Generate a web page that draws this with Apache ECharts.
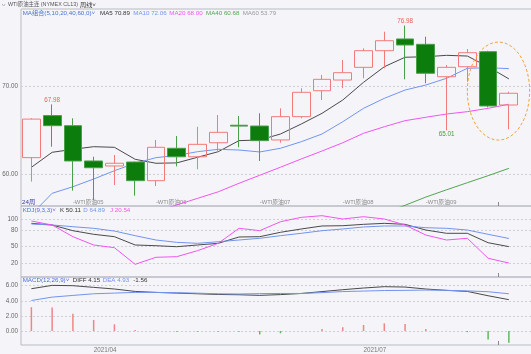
<!DOCTYPE html>
<html>
<head>
<meta charset="utf-8">
<script src="https://cdn.jsdelivr.net/npm/echarts@6/dist/echarts.min.js"></script>
<style>
  html, body { margin: 0; padding: 0; background: #f5f5f9; }
  #main { width: 531px; height: 354px; }
</style>
</head>
<body>
<div id="main"></div>
<script>
const FONT = '"Liberation Sans", "Noto Sans CJK SC", sans-serif';

// weekly candles, WTI 原油主连
const weeks = ['2021/03/15', '2021/03/22', '2021/03/29', '2021/04/05', '2021/04/12', '2021/04/19',
  '2021/04/26', '2021/05/03', '2021/05/10', '2021/05/17', '2021/05/24', '2021/05/31',
  '2021/06/07', '2021/06/14', '2021/06/21', '2021/06/28', '2021/07/05', '2021/07/12',
  '2021/07/19', '2021/07/26', '2021/08/02', '2021/08/09', '2021/08/16', '2021/08/23'];
const opens  = [61.9, 66.7, 65.55, 61.52, 60.95, 61.4, 59.27, 62.97, 62.0, 63.6, 65.6, 65.51,
  63.92, 66.58, 69.54, 70.76, 72.21, 74.11, 75.45, 74.84, 71.14, 72.28, 74.0, 67.91];
const closes = [66.3, 65.55, 61.52, 60.75, 61.26, 59.27, 63.08, 62.0, 63.42, 64.79, 65.5, 63.84,
  66.58, 69.36, 70.84, 71.6, 74.11, 75.25, 74.76, 71.53, 72.21, 73.88, 67.8, 69.25];
const lows   = [59.16, 63.15, 58.13, 57.07, 58.78, 57.56, 58.66, 60.9, 60.57, 62.58, 63.08, 61.52,
  63.6, 66.39, 68.48, 69.82, 70.96, 72.1, 70.84, 70.39, 65.01, 70.57, 67.65, 65.14];
const highs  = [66.4, 67.98, 66.39, 62.0, 62.2, 61.45, 63.92, 64.37, 65.43, 66.77, 66.66, 66.96,
  67.53, 69.82, 71.34, 73.05, 74.38, 76.28, 76.98, 75.71, 72.48, 74.3, 74.1, 69.43];

const ma5  = [60.8, 62.51, 62.85, 63.15, 63.08, 61.71, 61.26, 61.3, 61.94, 62.58, 63.84, 63.92,
  64.6, 65.74, 66.96, 68.48, 70.5, 72.28, 73.36, 73.42, 73.58, 73.5, 72.28, 70.89];
const ma10 = [55.4, 57.83, 58.58, 59.46, 60.41, 61.26, 61.9, 62.15, 62.58, 62.85, 62.77, 62.55,
  62.97, 63.72, 64.6, 66.0, 67.53, 68.67, 69.62, 70.19, 70.96, 72.1, 72.17, 72.06];
const ma20 = ['-', '-', '-', '-', '-', '-', 55.7, 56.5, 57.25, 58.0, 58.97, 59.89,
  60.81, 61.75, 62.66, 63.6, 64.68, 65.43, 66.12, 66.51, 66.88, 67.15, 67.53, 68.0];
const ma40 = ['-', '-', '-', '-', '-', '-', '-', '-', '-', '-', '-', '-',
  '-', '-', '-', '-', '-', 55.6, 56.46, 57.4, 58.23, 59.04, 59.84, 60.68];
const ma60Last = 53.79;

const kLine = [92.2, 89.2, 78.9, 72.4, 68.1, 53.1, 51.8, 50.0, 53.1, 56.1, 67.5, 68.1,
  76.0, 82.0, 87.4, 87.9, 90.4, 92.2, 90.4, 80.1, 74.2, 74.2, 57.2, 50.11];
const dLine = [91.0, 89.2, 86.1, 83.2, 78.3, 69.9, 62.1, 57.9, 56.1, 59.0, 62.1, 65.2,
  69.9, 74.2, 78.9, 82.0, 85.6, 87.4, 87.4, 84.3, 83.2, 80.1, 72.4, 64.89];
const jLine = [96.4, 89.2, 68.1, 53.1, 48.2, 18.2, 30.9, 32.0, 42.8, 56.1, 83.2, 79.0,
  95.1, 103.0, 106.0, 100.0, 104.2, 100.0, 89.2, 71.1, 62.1, 65.2, 29.1, 20.54];

const diff = [5.6, 6.04, 6.0, 5.78, 5.56, 5.24, 5.11, 5.02, 4.93, 4.84, 4.8, 4.72,
  4.82, 4.97, 5.22, 5.47, 5.69, 5.87, 5.82, 5.56, 5.38, 5.24, 4.67, 4.15];
const dea  = [4.04, 4.49, 4.71, 4.93, 5.02, 5.11, 5.11, 5.07, 5.01, 4.93, 4.9, 4.95,
  4.97, 4.97, 5.08, 5.22, 5.29, 5.36, 5.38, 5.42, 5.38, 5.31, 5.2, 4.93];
const macd = [3.16, 3.11, 2.27, 1.47, 0.89, 0.13, 0.02, -0.1, -0.1, -0.1, -0.1, -0.45,
  -0.3, 0.0, 0.27, 0.49, 0.8, 1.02, 0.93, 0.27, 0.02, -0.15, -1.11, -1.56];

// contract roll markers on the price panel
const contracts = ['', '', 'WTI原油05', '', '', '', 'WTI原油06', '', '', '', '', 'WTI原油07',
  '', '', '', 'WTI原油08', '', '', '', 'WTI原油09', '', '', '', ''];

const priceTicks = [60, 70];
const kdjTicks = [20, 50, 80, 100];
const macdTicks = [0, 2, 4, 6];

// labelled extremes (indexes)
const markHigh = [1, 18];
const markLow = [20];

const C_UP = '#f27a7a', C_DOWN = '#0c7d0c', C_DOWN_LINE = '#4a9f4a';
const C_GRAY = '#4a4a4a', C_BLUE = '#7393ef', C_PINK = '#f055f0', C_GREEN = '#4fa64f';
const C_LEG = '#4b6fd6';

const cats = weeks.concat(['']);   // one empty slot on the right, past the edge
const candles = weeks.map((w, i) => [opens[i], closes[i], lows[i], highs[i]]);

function isQuarterStart(i) {
  if (i === 0 || !weeks[i]) return false;
  const m = weeks[i].slice(5, 7), pm = weeks[i - 1].slice(5, 7);
  return m !== pm && ['01', '04', '07', '10'].indexOf(m) >= 0;
}

const splitStyle = { show: true, lineStyle: { color: '#cfcfd8', type: [2, 2], width: 1 } };
const gridBase = {
  left: 21, width: 519, outerBoundsMode: 'none', containLabel: false,
  show: true, borderColor: '#b9b9c3', borderWidth: 1
};

function xAx(i, label) {
  return {
    type: 'category', gridIndex: i, data: cats, boundaryGap: true,
    axisLine: { show: false }, axisTick: { show: false }, splitLine: { show: false },
    axisLabel: label
  };
}
function yAx(i, min, max, ticks, digits) {
  return {
    type: 'value', gridIndex: i, min: min, max: max, scale: true,
    axisLine: { show: false },
    axisTick: { show: false, customValues: ticks },
    splitLine: splitStyle,
    axisLabel: {
      customValues: ticks, fontSize: 6.3, color: '#666', margin: 3, fontFamily: FONT,
      formatter: v => v.toFixed(digits)
    }
  };
}
function line(name, data, color, xi, width) {
  return {
    name: name, type: 'line', xAxisIndex: xi, yAxisIndex: xi, data: data,
    symbol: 'none', smooth: false, clip: true, silent: true,
    lineStyle: { color: color, width: width || 1 }, z: 2
  };
}

const markData = markHigh.map(i => ({
  coord: [i, highs[i]], value: highs[i].toFixed(2),
  label: { position: 'top', color: '#f05a5a' }
})).concat(markLow.map(i => ({
  coord: [i, lows[i]], value: lows[i].toFixed(2),
  label: { position: 'bottom', color: '#3f9a3f' }
})));

const option = {
  backgroundColor: '#f5f5f9',
  animation: false,
  textStyle: { fontFamily: FONT },
  grid: [
    Object.assign({ top: 9, height: 197 }, gridBase),
    Object.assign({ top: 206, height: 71 }, gridBase),
    Object.assign({ top: 277, height: 68 }, gridBase)
  ],
  xAxis: [
    xAx(0, { show: true, inside: true, interval: 0, align: 'left', margin: 1, fontSize: 5.8,
      color: '#8a8a8a', formatter: (v, i) => contracts[i] ? '-' + contracts[i] : '' }),
    xAx(1, { show: false }),
    xAx(2, { show: true, interval: 0, align: 'left', margin: 2, fontSize: 6.3, color: '#777',
      formatter: (v, i) => isQuarterStart(i) ? v.slice(0, 7) : '' })
  ],
  yAxis: [
    yAx(0, 56.38, 78.87, priceTicks, 2),
    yAx(1, -4.7, 123.5, kdjTicks, 0),
    yAx(2, -1.85, 7.15, macdTicks, 2)
  ],
  series: [
    line('MA5', ma5, C_GRAY, 0),
    line('MA10', ma10, C_BLUE, 0),
    line('MA20', ma20, C_PINK, 0),
    line('MA40', ma40, C_GREEN, 0),
    {
      name: 'K线', type: 'candlestick', xAxisIndex: 0, yAxisIndex: 0, data: candles,
      barWidth: '88%', z: 3, silent: true,
      itemStyle: {
        color: 'rgba(0,0,0,0)', color0: C_DOWN,
        borderColor: C_UP, borderColor0: C_DOWN_LINE, borderWidth: 1
      },
      markPoint: {
        symbol: 'circle', symbolSize: 0, silent: true, animation: false,
        label: { show: true, fontSize: 6.3, distance: 1, formatter: '{c}', fontFamily: FONT },
        data: markData
      }
    },
    line('K', kLine, C_GRAY, 1),
    line('D', dLine, C_BLUE, 1),
    line('J', jLine, C_PINK, 1),
    line('DIFF', diff, C_GRAY, 2),
    line('DEA', dea, C_BLUE, 2),
    {
      name: 'MACD', type: 'bar', xAxisIndex: 2, yAxisIndex: 2, barWidth: 1.5, silent: true,
      data: macd.map(v => ({ value: v, itemStyle: { color: v >= 0 ? '#f08585' : '#62b862' } }))
    }
  ]
};

const chart = echarts.init(document.getElementById('main'), null, { renderer: 'canvas' });
chart.setOption(option);

function txt(x, y, s, color, size) {
  return {
    type: 'text', x: x, y: y, silent: true, z: 10,
    style: { text: s, fill: color, fontSize: size || 6.2, fontFamily: FONT, verticalAlign: 'middle' }
  };
}
const last = weeks.length - 1;
const graphics = [
  txt(1, 5, '⇔ WTI原油主连 (NYMEX CL13)', '#555', 5.4),
  txt(80, 5, '周线˅', '#333', 6.2),
  txt(22.7, 13, 'MA组合(5,10,20,40,60,0)˅', C_LEG),
  txt(100, 13, 'MA5 ' + ma5[last].toFixed(2), '#333'),
  txt(133.3, 13, 'MA10 ' + ma10[last].toFixed(2), C_BLUE),
  txt(169.3, 13, 'MA20 ' + ma20[last].toFixed(2), C_PINK),
  txt(206, 13, 'MA40 ' + ma40[last].toFixed(2), C_GREEN),
  txt(242.7, 13, 'MA60 ' + ma60Last.toFixed(2), '#999'),
  txt(22, 202, '24周', '#35359e', 6.2),
  txt(22.7, 210, 'KDJ(9,3,3)˅', C_LEG),
  txt(60, 210, 'K ' + kLine[last].toFixed(2), '#333'),
  txt(83.3, 210, 'D ' + dLine[last].toFixed(2), C_BLUE),
  txt(110, 210, 'J ' + jLine[last].toFixed(2), C_PINK),
  txt(22.7, 280.7, 'MACD(12,26,9)˅', C_LEG),
  txt(72.7, 280.7, 'DIFF ' + diff[last].toFixed(2), '#333'),
  txt(102.7, 280.7, 'DEA ' + dea[last].toFixed(2), C_BLUE),
  txt(133.3, 280.7, macd[last].toFixed(2), '#333')
];

// dashed highlight round the last two weeks
const pA = chart.convertToPixel({ gridIndex: 0 }, [last - 1, 69.5]);
const pB = chart.convertToPixel({ gridIndex: 0 }, [last, 69.5]);
const band = pB[0] - pA[0];
graphics.push({
  type: 'ellipse', silent: true, z: 10,
  shape: { cx: (pA[0] + pB[0]) / 2, cy: pA[1], rx: band * 1.5, ry: 49 },
  style: { fill: 'none', stroke: '#f3a23a', lineWidth: 1, lineDash: [3, 2] }
});
// small cursor marks at each panel bottom
const mx = Math.round((pA[0] + pB[0]) / 2) + 0.5;
[206, 277, 345].forEach(yb => {
  graphics.push({
    type: 'line', silent: true, z: 10,
    shape: { x1: mx, y1: yb - 4, x2: mx, y2: yb },
    style: { stroke: '#8a8a8a', lineWidth: 1 }
  });
});
chart.setOption({ graphic: graphics });
</script>
</body>
</html>
